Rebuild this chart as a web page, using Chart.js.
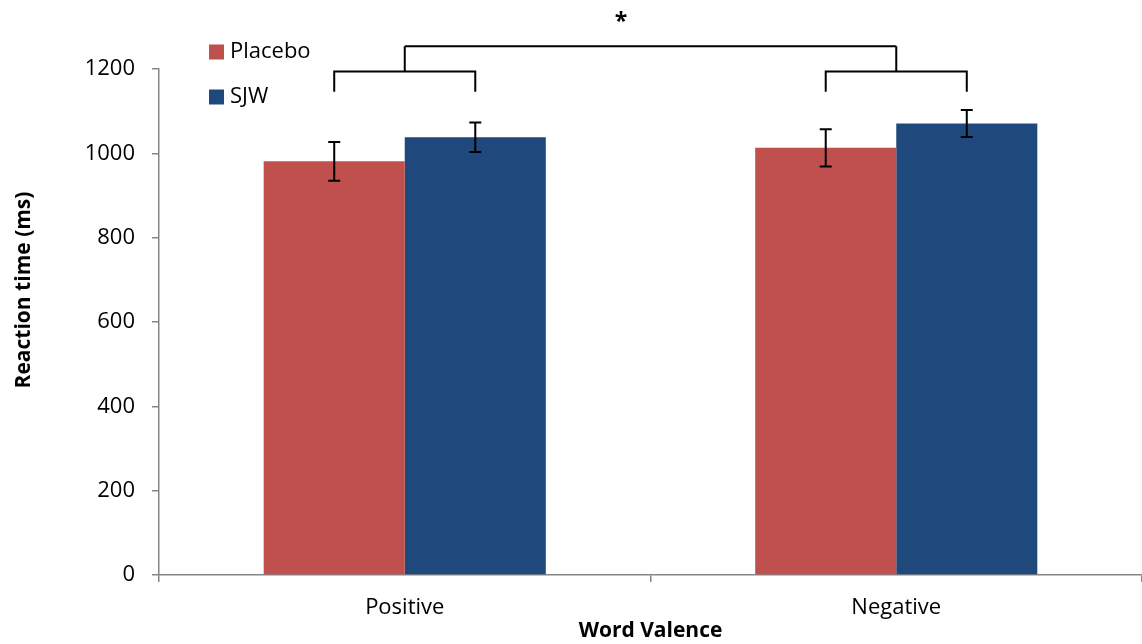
<!DOCTYPE html>
<html>
<head>
<meta charset="utf-8">
<script src="https://cdn.jsdelivr.net/npm/chart.js@4"></script>
<style>
  html, body { margin: 0; padding: 0; background: #fff; }
  canvas { display: block; }
</style>
</head>
<body>
<canvas id="chart" width="1142" height="644"></canvas>
<script>
// Mean reaction times (ms) with error bars, by word valence and treatment
const categories = ['Positive', 'Negative'];
const seriesNames = ['Placebo', 'SJW'];
const placeboMeans = [981, 1013];
const sjwMeans = [1038, 1071];
const placeboErrors = [46, 44];
const sjwErrors = [35, 32];
const yTickValues = [0, 200, 400, 600, 800, 1000, 1200];
const significanceMark = '*';

const FONT = '"Open Sans", "Noto Sans", sans-serif';
const AXIS_GREY = '#868686';

// Error bars: vertical whiskers with caps, centred on each bar
const errorBarPlugin = {
  id: 'errorBars',
  afterDatasetsDraw(chart, args, opts) {
    const { ctx } = chart;
    const y = chart.scales.y;
    ctx.save();
    ctx.strokeStyle = '#000';
    ctx.lineWidth = 2;
    chart.data.datasets.forEach((ds, di) => {
      const meta = chart.getDatasetMeta(di);
      meta.data.forEach((bar, i) => {
        const v = ds.data[i], e = ds.errors[i];
        const top = y.getPixelForValue(v + e);
        const bot = y.getPixelForValue(v - e);
        const x = bar.x;
        ctx.beginPath();
        ctx.moveTo(x, top); ctx.lineTo(x, bot);
        ctx.moveTo(x - opts.cap, top); ctx.lineTo(x + opts.cap, top);
        ctx.moveTo(x - opts.cap, bot); ctx.lineTo(x + opts.cap, bot);
        ctx.stroke();
      });
    });
    ctx.restore();
  }
};

// Significance brackets: one per category joining its two bars, and a
// top bracket joining the two category brackets, with a star above it
const bracketPlugin = {
  id: 'brackets',
  afterDatasetsDraw(chart, args, opts) {
    const { ctx } = chart;
    const y = chart.scales.y;
    const legY = y.getPixelForValue(opts.legBottom);
    const barY = y.getPixelForValue(opts.barLevel);
    const topY = y.getPixelForValue(opts.topLevel);
    const m0 = chart.getDatasetMeta(0), m1 = chart.getDatasetMeta(1);
    const stems = [];
    ctx.save();
    ctx.strokeStyle = '#000';
    ctx.lineWidth = 2;
    ctx.lineJoin = 'miter';
    categories.forEach((c, i) => {
      const xa = m0.data[i].x, xb = m1.data[i].x;
      const mid = (xa + xb) / 2;
      stems.push(mid);
      ctx.beginPath();
      ctx.moveTo(xa, legY); ctx.lineTo(xa, barY); ctx.lineTo(xb, barY); ctx.lineTo(xb, legY);
      ctx.moveTo(mid, barY); ctx.lineTo(mid, topY);
      ctx.stroke();
    });
    ctx.beginPath();
    ctx.moveTo(stems[0], topY); ctx.lineTo(stems[1], topY);
    ctx.stroke();
    ctx.fillStyle = '#000';
    ctx.font = 'bold 23px ' + FONT;
    ctx.textAlign = 'center';
    ctx.textBaseline = 'middle';
    const sx = stems[0] + opts.starFraction * (stems[1] - stems[0]);
    ctx.fillText(significanceMark, sx, y.getPixelForValue(opts.starLevel));
    ctx.restore();
  }
};

// Legend drawn in the upper-left of the plot, and the rotated y-axis title
const legendAndTitlePlugin = {
  id: 'legendAndTitle',
  afterDraw(chart, args, opts) {
    const { ctx, chartArea } = chart;
    ctx.save();
    ctx.font = '22px ' + FONT;
    ctx.textBaseline = 'middle';
    ctx.textAlign = 'left';
    chart.data.datasets.forEach((ds, i) => {
      const cy = chartArea.top + opts.firstRowOffset + i * opts.rowGap;
      const x0 = chartArea.left + opts.leftOffset;
      ctx.fillStyle = ds.backgroundColor;
      ctx.fillRect(x0, cy - 7.5, 15, 15);
      ctx.fillStyle = '#000';
      ctx.fillText(ds.label, x0 + 21, cy);
    });
    // y-axis title
    ctx.translate(opts.yTitleX, opts.yTitleY);
    ctx.rotate(-Math.PI / 2);
    ctx.font = 'bold 21px ' + FONT;
    ctx.textAlign = 'center';
    ctx.fillText('Reaction time (ms)', 0, 0);
    ctx.restore();
  }
};

new Chart(document.getElementById('chart'), {
  type: 'bar',
  data: {
    labels: categories,
    datasets: [
      { label: seriesNames[0], data: placeboMeans, errors: placeboErrors, backgroundColor: '#C0504D' },
      { label: seriesNames[1], data: sjwMeans, errors: sjwErrors, backgroundColor: '#1F497D' }
    ]
  },
  options: {
    responsive: false,
    animation: false,
    devicePixelRatio: 1,
    layout: { padding: { top: 69, right: 0, left: 0, bottom: 0 } },
    datasets: { bar: { categoryPercentage: 0.574, barPercentage: 1.0, borderWidth: 0 } },
    plugins: {
      legend: { display: false },
      tooltip: { enabled: false },
      errorBars: { cap: 6 },
      brackets: { legBottom: 1146, barLevel: 1194, topLevel: 1254, starLevel: 1310, starFraction: 0.44 },
      legendAndTitle: { leftOffset: 50, firstRowOffset: -17, rowGap: 45, yTitleX: 24, yTitleY: 290 }
    },
    scales: {
      x: {
        afterFit(s) { s.height = 69; },
        border: { color: AXIS_GREY, width: 1.5 },
        grid: { display: true, drawOnChartArea: false, drawTicks: true, tickLength: 7, color: AXIS_GREY, lineWidth: 1.5, offset: true },
        ticks: { color: '#000', font: { family: FONT, size: 22 }, padding: 13 },
        title: { display: true, text: 'Word Valence', color: '#000', font: { family: FONT, size: 21, weight: 'bold' }, padding: { top: 0, bottom: 0 } }
      },
      y: {
        min: 0,
        max: 1200,
        afterFit(s) { s.width = 159; },
        afterBuildTicks(s) { s.ticks = yTickValues.map(v => ({ value: v })); },
        border: { color: AXIS_GREY, width: 1.5 },
        grid: { display: true, drawOnChartArea: false, drawTicks: true, tickLength: 7, color: AXIS_GREY, lineWidth: 1.5 },
        ticks: { color: '#000', font: { family: FONT, size: 22 }, padding: 17, callback: (v) => String(v) }
      }
    }
  },
  plugins: [errorBarPlugin, bracketPlugin, legendAndTitlePlugin]
});
</script>
</body>
</html>
